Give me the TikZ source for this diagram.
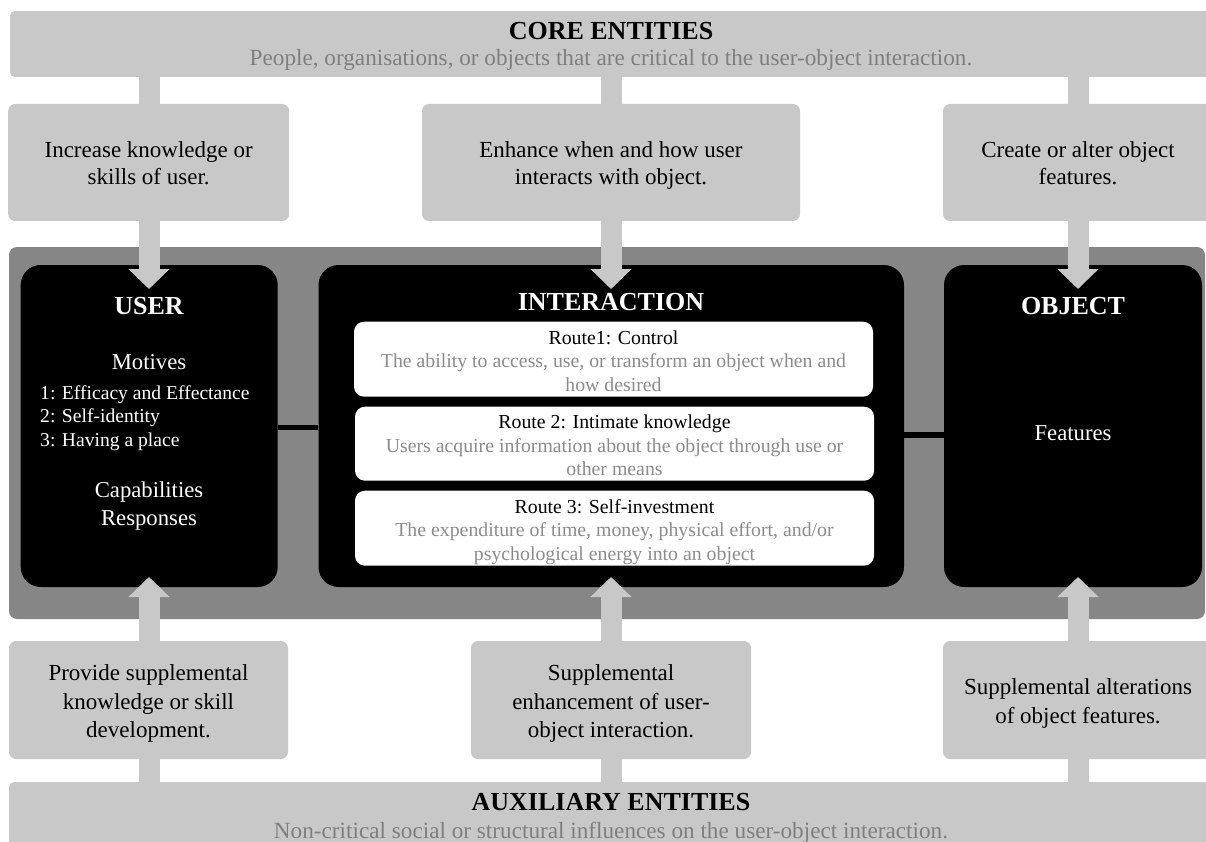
\documentclass[tikz,border=0pt]{standalone}
\usepackage{fontspec}
\setmainfont{Liberation Serif}
\usetikzlibrary{arrows.meta}
\definecolor{lg}{HTML}{C8C8C8}
\definecolor{pg}{HTML}{868686}
\definecolor{tg}{HTML}{7F7F7F}
\definecolor{rg}{HTML}{8C8C8C}
\newcommand{\btop}{\rule{0pt}{24pt}}
\newcommand{\bbot}{\rule[-6pt]{0pt}{6pt}}
\newcommand{\rtop}{\rule{0pt}{21.6pt}}
\newcommand{\rbot}{\rule[-5pt]{0pt}{5pt}}
\begin{document}
\begin{tikzpicture}[x=1pt,y=-1pt,
  bar/.style={fill=lg, rounded corners=5pt, inner sep=0pt},
  lbox/.style={fill=lg, rounded corners=7pt, inner sep=0pt, align=center,
    font=\fontsize{23}{27}\selectfont},
  lboxb/.style={lbox, font=\fontsize{23}{28.5}\selectfont},
  panel/.style={fill=pg, rounded corners=8pt, inner sep=0pt},
  blk/.style={fill=black, rounded corners=20pt, inner sep=0pt},
  route/.style={fill=white, rounded corners=10pt, inner sep=0pt, align=center,
    font=\fontsize{19.8}{23.5}\selectfont},
  stem/.style={draw=lg, line width=21pt},
  arr/.style={draw=lg, line width=21pt, -{Triangle[width=40pt,length=20pt]}},
  link/.style={draw=black, line width=5pt},
  ttl/.style={font=\fontsize{26}{30}\selectfont\bfseries, anchor=base, inner sep=0pt},
  sub/.style={font=\fontsize{23.2}{27}\selectfont, text=tg, anchor=base, inner sep=0pt},
  btl/.style={font=\fontsize{26}{30}\selectfont\bfseries, text=white, anchor=base, inner sep=0pt},
  wtx/.style={font=\fontsize{22.7}{27}\selectfont, text=white, anchor=base, inner sep=0pt},
  wsm/.style={font=\fontsize{19.6}{23.5}\selectfont, text=white, anchor=base west, inner sep=0pt}
]
\useasboundingbox (0,0) rectangle (1206,842);
\clip (0,0) rectangle (1206,842);

% bars
\node[bar, minimum width=1202pt, minimum height=66pt] (core) at (611,44) {};
\node[bar, minimum width=1204pt, minimum height=90pt] (aux) at (611,827) {};

% arrow x-positions
\coordinate (t1) at (149,289);
\coordinate (t2) at (611,289);
\coordinate (t3) at (1078,289);
\coordinate (b1) at (149,577);
\coordinate (b2) at (611,577);
\coordinate (b3) at (1078,577);

% top boxes
\node[lbox, minimum width=281pt, minimum height=117pt] (k1) at (148.7,162.5)
  {\btop Increase knowledge or\\skills of user.\bbot};
\node[lbox, minimum width=378pt, minimum height=117pt] (k2) at (611,162.5)
  {\btop Enhance when and how user\\interacts with object.\bbot};
\node[lbox, minimum width=270pt, minimum height=117pt] (k3) at (1078,162.5)
  {\btop Create or alter object\\features.\bbot};

% bottom boxes
\node[lboxb, minimum width=279pt, minimum height=118pt] (a1) at (148.5,700)
  {\btop Provide supplemental\\knowledge or skill\\development.\bbot};
\node[lboxb, minimum width=280pt, minimum height=118pt] (a2) at (611,700)
  {\btop Supplemental\\enhancement of user-\\object interaction.\bbot};
\node[lboxb, minimum width=270pt, minimum height=118pt] (a3) at (1078,700)
  {\btop Supplemental alterations\\of object features.\bbot};

% stems between bars and boxes
\draw[stem] (core.south -| t1) -- (k1.north -| t1);
\draw[stem] (core.south -| t2) -- (k2.north -| t2);
\draw[stem] (core.south -| t3) -- (k3.north -| t3);
\draw[stem] (aux.north -| b1) -- (a1.south -| b1);
\draw[stem] (aux.north -| b2) -- (a2.south -| b2);
\draw[stem] (aux.north -| b3) -- (a3.south -| b3);

% central panel
\node[panel, minimum width=1196pt, minimum height=372pt] (pan) at (607,433) {};

% black boxes
\node[blk, minimum width=257pt, minimum height=322pt] (user) at (149.2,426) {};
\node[blk, minimum width=585.5pt, minimum height=322pt] (inter) at (611.25,426) {};
\node[blk, minimum width=258pt, minimum height=322pt] (obj) at (1073,426) {};

% links
\draw[link] (user.east |- 0,427) -- (inter.west |- 0,427);
\draw[link, line width=6pt] (inter.east |- 0,435) -- (obj.west |- 0,435);

% routes
\node[route, minimum width=519pt, minimum height=75pt] (r1) at (613.5,359.2)
  {\rtop Route1: Control\\\textcolor{rg}{The ability to access, use, or transform an object when and}\\\textcolor{rg}{how desired}\rbot};
\node[route, minimum width=519pt, minimum height=74pt] (r2) at (614.5,443.7)
  {\rtop Route 2: Intimate knowledge\\\textcolor{rg}{Users acquire information about the object through use or}\\\textcolor{rg}{other means}\rbot};
\node[route, minimum width=519pt, minimum height=75pt] (r3) at (614.5,528.2)
  {\rtop Route 3: Self-investment\\\textcolor{rg}{The expenditure of time, money, physical effort, and/or}\\\textcolor{rg}{psychological energy into an object}\rbot};

% arrows into black boxes
\draw[arr] (k1.south -| t1) -- (t1);
\draw[arr] (k2.south -| t2) -- (t2);
\draw[arr] (k3.south -| t3) -- (t3);
\draw[arr] (a1.north -| b1) -- (b1);
\draw[arr] (a2.north -| b2) -- (b2);
\draw[arr] (a3.north -| b3) -- (b3);

% bar texts
\node[ttl] (coret) at (611,40) {CORE ENTITIES};
\node[sub] (cores) at (611,66) {People, organisations, or objects that are critical to the user-object interaction.};
\node[ttl] (auxt) at (611,810) {AUXILIARY ENTITIES};
\node[sub] (auxs) at (611,838) {Non-critical social or structural influences on the user-object interaction.};

% black box texts
\node[btl] (usert) at (149,314) {USER};
\node[btl] (intert) at (611,310) {INTERACTION};
\node[btl] (objt) at (1073,314) {OBJECT};
\node[wtx] (mot) at (149,369) {Motives};
\node[wsm] (m1) at (40,399.3) {1: Efficacy and Effectance};
\node[wsm] (m2) at (40,422.7) {2: Self-identity};
\node[wsm] (m3) at (40,446) {3: Having a place};
\node[wtx] (cap) at (149,497.7) {Capabilities};
\node[wtx] (resp) at (149,525) {Responses};
\node[wtx] (feat) at (1073,440) {Features};
\end{tikzpicture}
\end{document}
